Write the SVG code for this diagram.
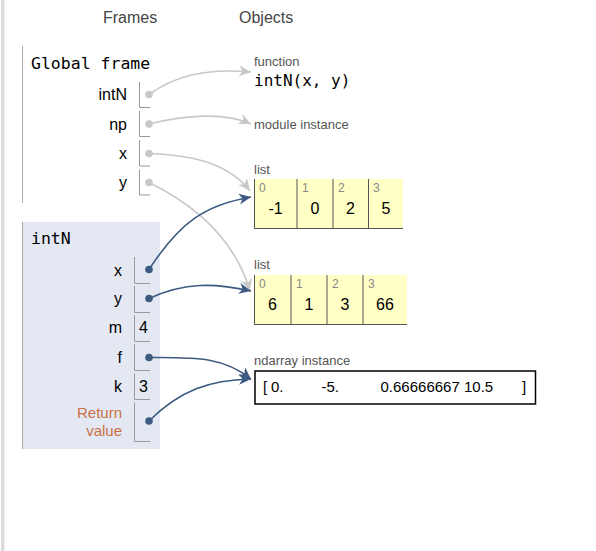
<svg xmlns="http://www.w3.org/2000/svg" width="596" height="551" viewBox="0 0 596 551">
<style>
  .hdr{font-family:"Liberation Sans",Arial,sans-serif;font-size:16px;fill:#444}
  .mono{font-family:"DejaVu Sans Mono","Liberation Mono",monospace;font-size:16px;fill:#000}
  .var{font-family:"Liberation Sans",Arial,sans-serif;font-size:16px;fill:#000;text-anchor:end}
  .ret{font-family:"Liberation Sans",Arial,sans-serif;font-size:15px;fill:#cc7043;text-anchor:end}
  .val{font-family:"Liberation Sans",Arial,sans-serif;font-size:16px;fill:#000}
  .lbl{font-family:"Liberation Sans",Arial,sans-serif;font-size:13px;fill:#555}
  .idx{font-family:"Liberation Sans",Arial,sans-serif;font-size:12px;fill:#888}
  .cell{stroke:#999;stroke-width:1;fill:none}
  .lcell{stroke:#555;stroke-width:1;fill:none}
  .gdot{fill:#c8c8c8}
  .bdot{fill:#3d5a80}
  .gline{fill:none;stroke:#c8c8c8;stroke-width:1.6}
  .bline{fill:none;stroke:#3d5a80;stroke-width:1.6}
</style>
<defs>
  <marker id="ag" markerUnits="userSpaceOnUse" markerWidth="14" markerHeight="12" refX="12" refY="5.5" orient="auto">
    <path d="M0,0 L12,5.5 L0,11 L3.5,5.5 z" fill="#c8c8c8"/>
  </marker>
  <marker id="ab" markerUnits="userSpaceOnUse" markerWidth="14" markerHeight="12" refX="12" refY="5.5" orient="auto">
    <path d="M0,0 L12,5.5 L0,11 L3.5,5.5 z" fill="#3d5a80"/>
  </marker>
</defs>
<rect width="596" height="551" fill="#fff"/>
<rect x="1" y="0" width="3.5" height="551" fill="#ddd"/>
<text class="hdr" x="103" y="23">Frames</text>
<text class="hdr" x="239" y="23">Objects</text>

<g id="global-frame">
  <line x1="22.5" y1="46" x2="22.5" y2="203" stroke="#aaa" stroke-width="1"/>
  <text class="mono" x="31" y="69" style="font-size:16.5px">Global frame</text>
  <text class="var" x="127" y="100">intN</text>
  <path class="cell" d="M139.5,82 V107.5 H150"/>
  <circle class="gdot" cx="149" cy="94.5" r="3.8"/>
  <text class="var" x="127" y="129.5">np</text>
  <path class="cell" d="M139.5,111 V136.5 H150"/>
  <circle class="gdot" cx="149" cy="124" r="3.8"/>
  <text class="var" x="127" y="159">x</text>
  <path class="cell" d="M139.5,140 V166 H150"/>
  <circle class="gdot" cx="149" cy="153.5" r="3.8"/>
  <text class="var" x="127" y="188">y</text>
  <path class="cell" d="M139.5,169.5 V195 H150"/>
  <circle class="gdot" cx="149" cy="182.5" r="3.8"/>
</g>

<g id="intN-frame">
  <rect x="22" y="222" width="138" height="227" fill="#e3e8f3"/>
  <line x1="22.5" y1="222" x2="22.5" y2="449" stroke="#aaa" stroke-width="1"/>
  <text class="mono" x="31" y="243.5" style="font-size:16.5px">intN</text>
  <text class="var" x="122" y="275.5">x</text>
  <path class="cell" d="M134.5,257 V283.5 H150"/>
  <circle class="bdot" cx="149" cy="269.5" r="3.8"/>
  <text class="var" x="122" y="304">y</text>
  <path class="cell" d="M134.5,286 V312.5 H150"/>
  <circle class="bdot" cx="149" cy="298.5" r="3.8"/>
  <text class="var" x="122" y="333">m</text>
  <path class="cell" d="M134.5,315 V341.5 H150"/>
  <text class="val" x="139" y="333">4</text>
  <text class="var" x="122" y="362.5">f</text>
  <path class="cell" d="M134.5,344 V370.5 H150"/>
  <circle class="bdot" cx="149" cy="357.5" r="3.8"/>
  <text class="var" x="122" y="391.5">k</text>
  <path class="cell" d="M134.5,373.5 V399.5 H150"/>
  <text class="val" x="139" y="391.5">3</text>
  <text class="ret" x="122" y="418">Return</text>
  <text class="ret" x="122" y="435.5">value</text>
  <path class="cell" d="M134.5,402.5 V441.5 H150"/>
  <circle class="bdot" cx="149" cy="421" r="3.8"/>
</g>

<g id="function-intN">
  <text class="lbl" x="254" y="66">function</text>
  <text class="mono" x="254" y="86">intN(x, y)</text>
</g>

<g id="module-np">
  <text class="lbl" x="254" y="129">module instance</text>
</g>

<g id="list-x">
  <text class="lbl" x="254" y="173.5">list</text>
  <rect x="254" y="179" width="149" height="50" fill="#ffffc6"/>
  <path class="lcell" d="M254.5,179 V229 M297,179 V229 M333,179 V229 M368.5,179 V229 M254,228.5 H403"/>
  <text class="idx" x="259" y="192">0</text>
  <text class="idx" x="302" y="192">1</text>
  <text class="idx" x="338" y="192">2</text>
  <text class="idx" x="373" y="192">3</text>
  <text class="val" x="275.5" y="214" text-anchor="middle">-1</text>
  <text class="val" x="315" y="214" text-anchor="middle">0</text>
  <text class="val" x="350.5" y="214" text-anchor="middle">2</text>
  <text class="val" x="386" y="214" text-anchor="middle">5</text>
</g>

<g id="list-y">
  <text class="lbl" x="254" y="269">list</text>
  <rect x="254" y="275" width="153" height="50" fill="#ffffc6"/>
  <path class="lcell" d="M254.5,275 V325 M291,275 V325 M327,275 V325 M363,275 V325 M254,324.5 H407"/>
  <text class="idx" x="259" y="288">0</text>
  <text class="idx" x="296" y="288">1</text>
  <text class="idx" x="332" y="288">2</text>
  <text class="idx" x="368" y="288">3</text>
  <text class="val" x="272.5" y="310" text-anchor="middle">6</text>
  <text class="val" x="309" y="310" text-anchor="middle">1</text>
  <text class="val" x="345" y="310" text-anchor="middle">3</text>
  <text class="val" x="385" y="310" text-anchor="middle">66</text>
</g>

<g id="ndarray">
  <text class="lbl" x="254" y="365">ndarray instance</text>
  <rect x="255" y="371" width="280.5" height="33" fill="#fff" stroke="#000" stroke-width="1.5"/>
  <text class="val" y="392" style="font-size:15px"><tspan x="263">[</tspan><tspan x="271">0.</tspan><tspan x="321.5">-5.</tspan><tspan x="380.5">0.66666667</tspan><tspan x="464">10.5</tspan><tspan x="522">]</tspan></text>
</g>

<g id="connectors">
  <path class="gline" marker-end="url(#ag)" d="M149,94.5 C175,76 205,68 251,72"/>
  <path class="gline" marker-end="url(#ag)" d="M149,124 C185,115 225,112 251,124"/>
  <path class="gline" marker-end="url(#ag)" d="M149,153.5 C195,155 230,165 250,191"/>
  <path class="gline" marker-end="url(#ag)" d="M149,182.5 C195,205 235,240 250,291"/>
  <path class="bline" marker-end="url(#ab)" d="M149,269.5 C180,222 205,205 251,197"/>
  <path class="bline" marker-end="url(#ab)" d="M149,298.5 C185,282 215,283 251,291"/>
  <path class="bline" marker-end="url(#ab)" d="M149,357.5 C200,357 225,358 251,379"/>
  <path class="bline" marker-end="url(#ab)" d="M149,421 C180,390 210,380 251,379"/>
</g>
</svg>
